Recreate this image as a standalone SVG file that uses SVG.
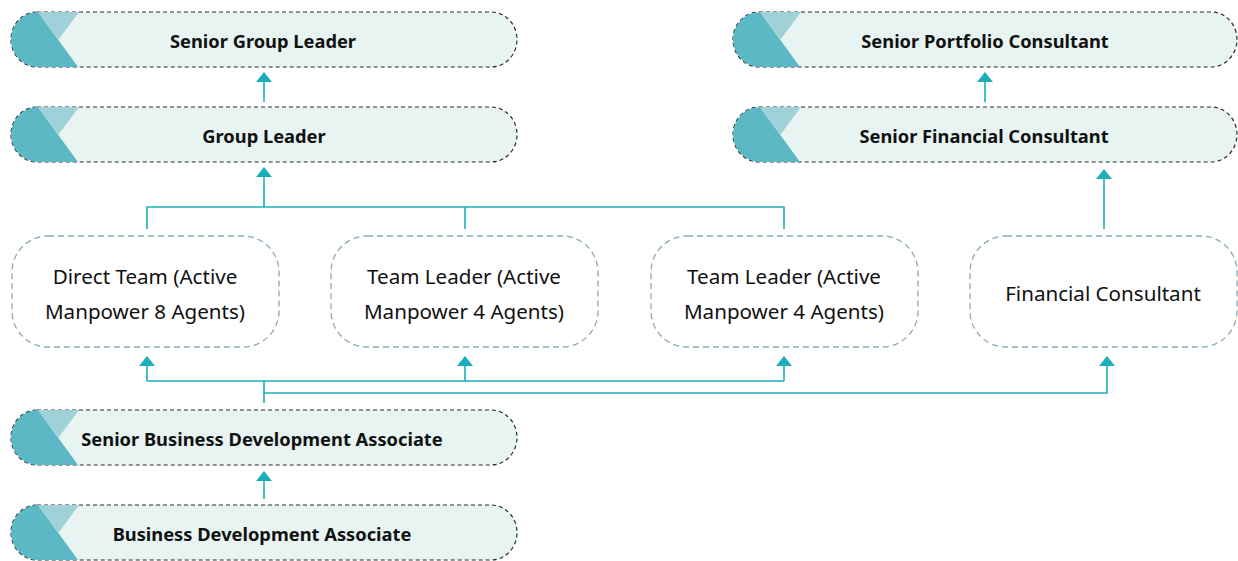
<svg xmlns="http://www.w3.org/2000/svg" xmlns:xlink="http://www.w3.org/1999/xlink" width="1238" height="561" viewBox="0 0 1238 561">
<style>
.pill{fill:#e7f4f1;stroke:#2b2b2b;stroke-width:1.2;stroke-dasharray:4 3}
.dark{fill:#5db8c6}
.light{fill:#a0d1d8}
.pt{font-family:"Noto Sans",Roboto,sans-serif;font-weight:700;font-size:18.3px;fill:#111;text-anchor:middle}
.box{fill:#fff;stroke:#8aa8b8;stroke-width:1.3;stroke-dasharray:6 4}
.bt{font-family:"Noto Sans",Roboto,sans-serif;font-size:20.6px;fill:#111;text-anchor:middle}
.ln{fill:none;stroke:#1aaebb;stroke-width:1.6}
</style>
<defs>
<g id="cap">
<path class="dark" d="M27.5,0 L27,0 L67,55 L27.5,55 A27.5,27.5 0 0 1 27.5,0 Z"/>
<path class="light" d="M27,0 L68,0 L47.5,27.5 Z"/>
</g>
<marker id="ah" viewBox="0 0 10 16" refX="9" refY="8" markerWidth="10" markerHeight="16" markerUnits="userSpaceOnUse" orient="auto">
<path d="M0,0 L10,8 L0,16 Z" fill="#1aaebb"/>
</marker>
</defs>
<g id="senior-group-leader">
<rect class="pill" x="11" y="12" width="506" height="55" rx="26" ry="27.5"/>
<use xlink:href="#cap" x="11" y="12"/>
<text class="pt" x="263" y="48">Senior Group Leader</text>
</g>
<g id="group-leader">
<rect class="pill" x="11" y="107" width="506" height="55" rx="26" ry="27.5"/>
<use xlink:href="#cap" x="11" y="107"/>
<text class="pt" x="264" y="143">Group Leader</text>
</g>
<g id="senior-portfolio-consultant">
<rect class="pill" x="733" y="12" width="504" height="55" rx="26" ry="27.5"/>
<use xlink:href="#cap" x="733" y="12"/>
<text class="pt" x="985" y="48">Senior Portfolio Consultant</text>
</g>
<g id="senior-financial-consultant">
<rect class="pill" x="733" y="107" width="504" height="55" rx="26" ry="27.5"/>
<use xlink:href="#cap" x="733" y="107"/>
<text class="pt" x="984" y="143">Senior Financial Consultant</text>
</g>
<g id="senior-bda">
<rect class="pill" x="11" y="410" width="506" height="55" rx="26" ry="27.5"/>
<use xlink:href="#cap" x="11" y="410"/>
<text class="pt" x="262" y="446">Senior Business Development Associate</text>
</g>
<g id="bda">
<rect class="pill" x="11" y="505" width="506" height="55" rx="26" ry="27.5"/>
<use xlink:href="#cap" x="11" y="505"/>
<text class="pt" x="262" y="541">Business Development Associate</text>
</g>
<g id="direct-team">
<rect class="box" x="12" y="236" width="267" height="111" rx="36"/>
<text class="bt" x="145" y="284">Direct Team (Active</text>
<text class="bt" x="145" y="319">Manpower 8 Agents)</text>
</g>
<g id="team-leader-1">
<rect class="box" x="331" y="236" width="267" height="111" rx="36"/>
<text class="bt" x="464" y="284">Team Leader (Active</text>
<text class="bt" x="464" y="319">Manpower 4 Agents)</text>
</g>
<g id="team-leader-2">
<rect class="box" x="651" y="236" width="267" height="111" rx="36"/>
<text class="bt" x="784" y="284">Team Leader (Active</text>
<text class="bt" x="784" y="319">Manpower 4 Agents)</text>
</g>
<g id="financial-consultant">
<rect class="box" x="970" y="236" width="267" height="111" rx="36"/>
<text class="bt" x="1103" y="301">Financial Consultant</text>
</g>
<g id="connectors">
<path class="ln" d="M264,102 V73" marker-end="url(#ah)"/>
<path class="ln" d="M985,102 V73" marker-end="url(#ah)"/>
<path class="ln" d="M264,499 V472" marker-end="url(#ah)"/>
<path class="ln" d="M264,207 V168" marker-end="url(#ah)"/>
<path class="ln" d="M147,229 V207 H784 V229"/>
<path class="ln" d="M465,207 V229"/>
<path class="ln" d="M1104,229 V170" marker-end="url(#ah)"/>
<path class="ln" d="M264,403 V381"/>
<path class="ln" d="M147,381 H784"/>
<path class="ln" d="M147,381 V357" marker-end="url(#ah)"/>
<path class="ln" d="M465,381 V357" marker-end="url(#ah)"/>
<path class="ln" d="M784,381 V357" marker-end="url(#ah)"/>
<path class="ln" d="M264,393 H1107 V357" marker-end="url(#ah)"/>
</g>
</svg>
